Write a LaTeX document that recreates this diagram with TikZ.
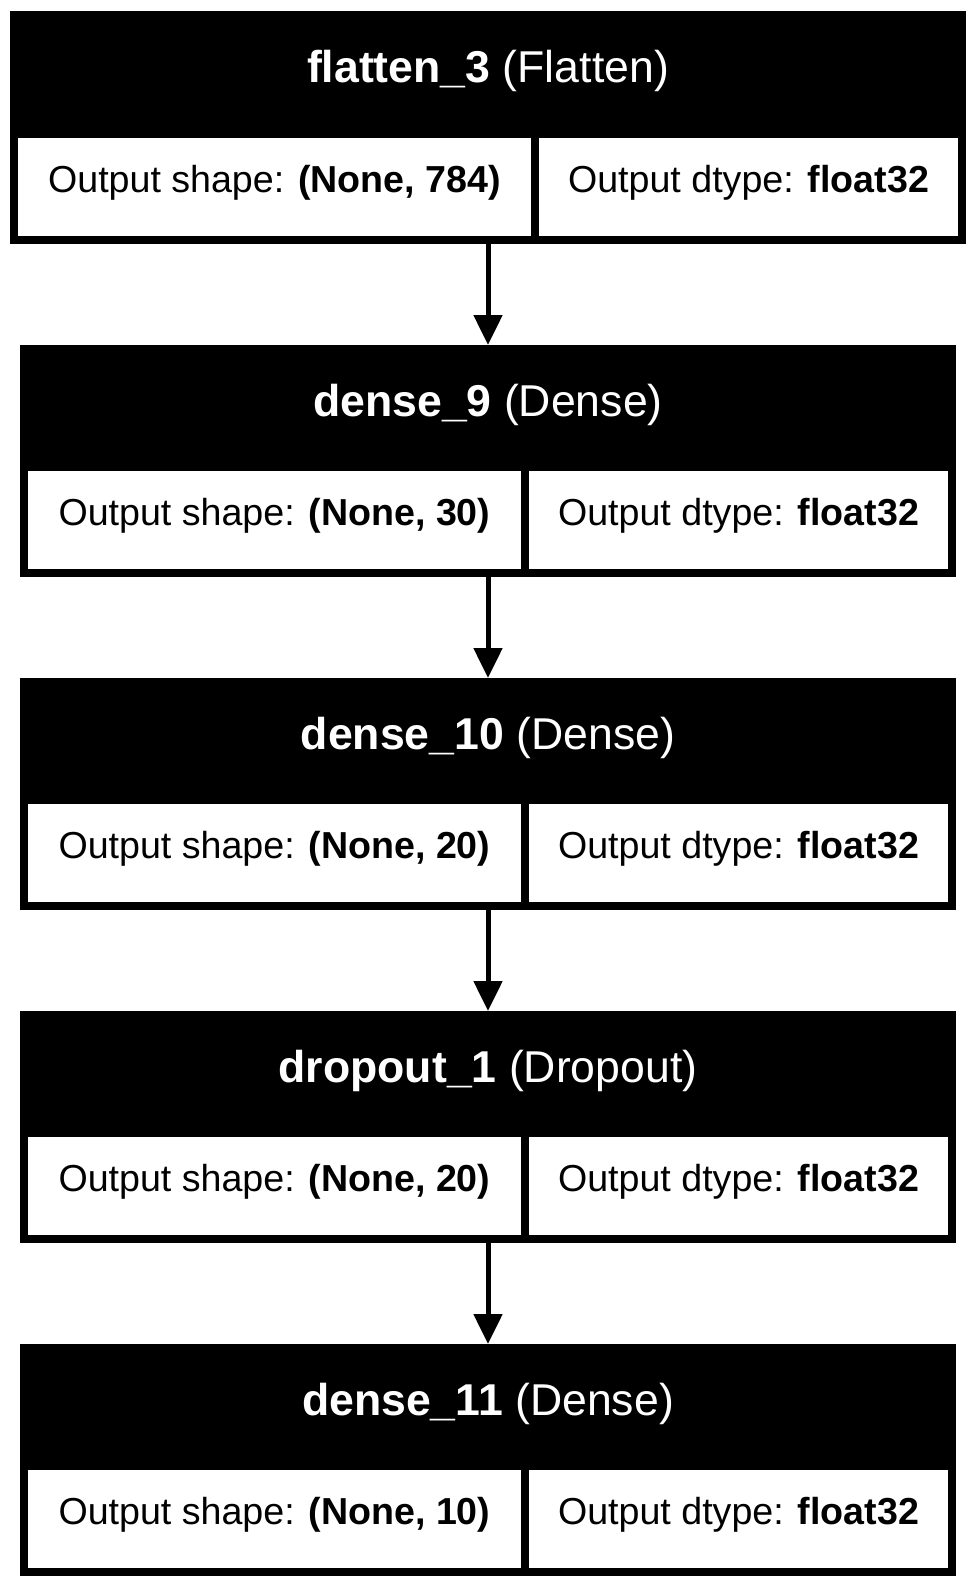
\documentclass[tikz,border=0pt]{standalone}
\usepackage{fontspec}
\setmainfont{Liberation Sans}
\usetikzlibrary{positioning,arrows.meta}

\begin{document}
\begin{tikzpicture}[
				x = 0.5pt, y = -0.5pt, % one unit = one pixel
				> = {Triangle[length=15pt,width=14pt]}, % arrow head style
				line width = 2.5pt, % line style
				node distance = 50.5pt, % gap between layers
				blockbox/.style = {rectangle, fill=black, inner sep=0pt, outer sep=0pt, minimum width=468pt, minimum height=116pt},
				blocktitle/.style = {text=white, inner sep=0pt, font=\fontsize{22.3}{26}\selectfont},
				cellbox/.style = {rectangle, fill=white, inner sep=0pt, outer sep=0pt, minimum height=49pt, minimum width=246.5pt,
					text height=0.75em, text depth=0.21em, font=\fontsize{18.8}{22}\selectfont}
				]
				
				\useasboundingbox (0,0) rectangle (975,1589);
				
				\node (flatten3) [blockbox, minimum width=478pt, minimum height=116.5pt] at (488,127.5) {};
				\node (dense9) [blockbox, below=of flatten3] {};
				\node (dense10) [blockbox, below=of dense9] {};
				\node (dropout1) [blockbox, below=of dense10] {};
				\node (dense11) [blockbox, below=of dropout1] {};
				
				\node (flatten3-name) [blocktitle] at ([yshift=-30pt]flatten3.north) {\textbf{flatten\_3} (Flatten)};
				\node (flatten3-shape) [cellbox, minimum width=256.5pt, above right=4pt and 4pt of flatten3.south west] {Output shape: \textbf{(None, 784)}};
				\node (flatten3-dtype) [cellbox, minimum width=209.5pt, right=4pt of flatten3-shape] {Output dtype: \textbf{float32}};
				
				\node (dense9-name) [blocktitle] at ([yshift=-30pt]dense9.north) {\textbf{dense\_9} (Dense)};
				\node (dense9-shape) [cellbox, above right=4pt and 4pt of dense9.south west] {Output shape: \textbf{(None, 30)}};
				\node (dense9-dtype) [cellbox, minimum width=209.5pt, right=4pt of dense9-shape] {Output dtype: \textbf{float32}};
				
				\node (dense10-name) [blocktitle] at ([yshift=-30pt]dense10.north) {\textbf{dense\_10} (Dense)};
				\node (dense10-shape) [cellbox, above right=4pt and 4pt of dense10.south west] {Output shape: \textbf{(None, 20)}};
				\node (dense10-dtype) [cellbox, minimum width=209.5pt, right=4pt of dense10-shape] {Output dtype: \textbf{float32}};
				
				\node (dropout1-name) [blocktitle] at ([yshift=-30pt]dropout1.north) {\textbf{dropout\_1} (Dropout)};
				\node (dropout1-shape) [cellbox, above right=4pt and 4pt of dropout1.south west] {Output shape: \textbf{(None, 20)}};
				\node (dropout1-dtype) [cellbox, minimum width=209.5pt, right=4pt of dropout1-shape] {Output dtype: \textbf{float32}};
				
				\node (dense11-name) [blocktitle] at ([yshift=-30pt]dense11.north) {\textbf{dense\_11} (Dense)};
				\node (dense11-shape) [cellbox, above right=4pt and 4pt of dense11.south west] {Output shape: \textbf{(None, 10)}};
				\node (dense11-dtype) [cellbox, minimum width=209.5pt, right=4pt of dense11-shape] {Output dtype: \textbf{float32}};
				
				\path[->] (flatten3) edge (dense9);
				\path[->] (dense9) edge (dense10);
				\path[->] (dense10) edge (dropout1);
				\path[->] (dropout1) edge (dense11);
				
			\end{tikzpicture}
\end{document}
